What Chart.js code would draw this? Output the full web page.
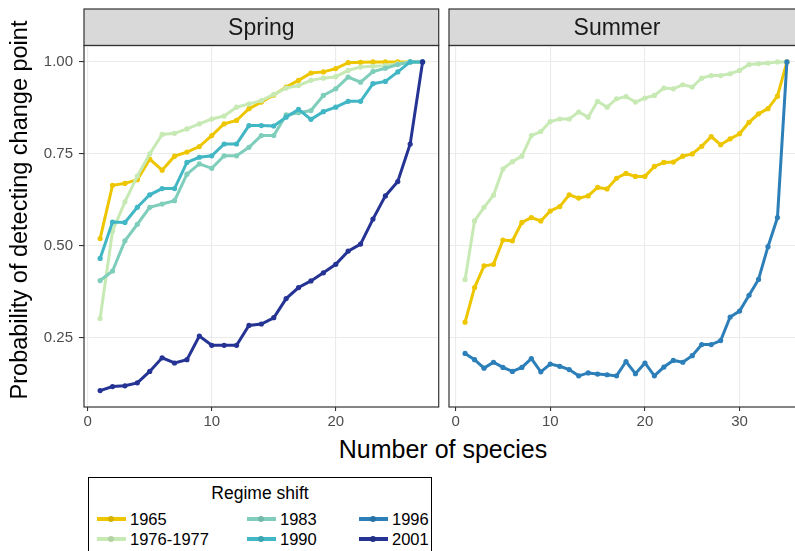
<!DOCTYPE html>
<html><head><meta charset="utf-8">
<script src="https://cdn.jsdelivr.net/npm/chart.js@4.4.0/dist/chart.umd.min.js"></script>
<style>
html,body{margin:0;padding:0;background:#fff;overflow:hidden;width:795px;height:551px;}
#wrap{position:relative;width:795px;height:551px;overflow:hidden;font-family:"Liberation Sans",Arial,Helvetica,sans-serif;}
#c1{position:absolute;left:0;top:0;}
#c2{position:absolute;left:445px;top:0;}
#xtitle{position:absolute;left:243px;width:400px;top:434px;text-align:center;font-size:25px;color:#000;line-height:30px;}
#legend{position:absolute;left:88px;top:477px;width:344px;height:100px;border:1.5px solid #000;box-sizing:border-box;}
#ltitle{position:absolute;left:0;width:100%;top:5px;text-align:center;font-size:17.5px;line-height:20px;color:#000;}
.li{position:absolute;height:20px;}
.li .ln{position:absolute;left:0;top:8px;width:29px;height:4px;}
.li .dt{position:absolute;left:11px;top:7px;width:6px;height:6px;border-radius:50%;}
.li .tx{position:absolute;left:33px;top:0;font-size:16.5px;line-height:20px;color:#000;white-space:nowrap;}
</style>
</head><body>
<div id="wrap">
<canvas id="c1" width="445" height="430"></canvas>
<canvas id="c2" width="365" height="430"></canvas>
<div id="xtitle">Number of species</div>
<div id="legend"><div id="ltitle">Regime shift</div></div>
</div>
<script>
// ---- data ----
const springX = [1,2,3,4,5,6,7,8,9,10,11,12,13,14,15,16,17,18,19,20,21,22,23,24,25,26,27];
const summerX = [1,2,3,4,5,6,7,8,9,10,11,12,13,14,15,16,17,18,19,20,21,22,23,24,25,26,27,28,29,30,31,32,33,34,35];

const spring1965 = [0.52,0.665,0.67,0.68,0.736,0.706,0.744,0.755,0.77,0.80,0.832,0.841,0.873,0.891,0.91,0.932,0.95,0.97,0.973,0.982,0.998,0.999,1.0,1.0,1.0,1.0,1.0];
const spring1976 = [0.303,0.54,0.62,0.69,0.75,0.803,0.806,0.818,0.832,0.845,0.853,0.877,0.886,0.895,0.912,0.929,0.936,0.95,0.956,0.96,0.977,0.986,0.988,0.99,0.995,1.0,1.0];
const spring1983 = [0.406,0.432,0.514,0.559,0.605,0.614,0.623,0.695,0.723,0.711,0.745,0.745,0.768,0.80,0.80,0.856,0.862,0.868,0.909,0.927,0.959,0.945,0.974,0.983,0.993,1.0,1.0];
const spring1990 = [0.466,0.565,0.564,0.605,0.639,0.656,0.656,0.727,0.741,0.745,0.777,0.777,0.827,0.827,0.826,0.85,0.871,0.844,0.865,0.877,0.893,0.893,0.941,0.947,0.973,1.0,1.0];
const spring2001 = [0.107,0.118,0.12,0.128,0.159,0.196,0.182,0.191,0.255,0.23,0.23,0.23,0.284,0.288,0.305,0.357,0.387,0.405,0.427,0.45,0.486,0.505,0.573,0.636,0.675,0.777,1.0];

const summer1965 = [0.293,0.387,0.446,0.45,0.516,0.514,0.564,0.577,0.568,0.595,0.607,0.639,0.630,0.636,0.659,0.655,0.684,0.697,0.689,0.689,0.716,0.727,0.728,0.744,0.75,0.771,0.797,0.775,0.791,0.805,0.836,0.859,0.873,0.907,1.0];
const summer1976 = [0.409,0.568,0.605,0.638,0.709,0.729,0.744,0.80,0.811,0.838,0.845,0.845,0.864,0.85,0.893,0.877,0.90,0.906,0.891,0.902,0.909,0.929,0.927,0.938,0.932,0.956,0.963,0.963,0.968,0.977,0.993,0.995,0.997,1.0,1.0];
const summer1996 = [0.208,0.191,0.168,0.184,0.17,0.159,0.17,0.194,0.158,0.179,0.173,0.164,0.147,0.155,0.152,0.15,0.147,0.186,0.153,0.182,0.147,0.171,0.189,0.184,0.202,0.232,0.232,0.243,0.307,0.323,0.366,0.409,0.498,0.577,1.0];

const regimeNames = ['1965','1976-1977','1983','1990','1996','2001'];
const regimeColors = ['#EDC600','#C7E9B4','#7FCDBB','#41B6C4','#2C7FB8','#253494'];

const yTicks = [0.25,0.50,0.75,1.00];
const springXTicks = [0,10,20];
const summerXTicks = [0,10,20,30];
const panelTitles = ['Spring','Summer'];
const yTitle = 'Probability of detecting change point';
// --------------

const Y_MIN = 0.0624, Y_MAX = 1.0447;
const FONT = '"Liberation Sans", Arial, Helvetica, sans-serif';

function ds(name, xs, ys) {
  const i = regimeNames.indexOf(name);
  return {
    label: name,
    data: xs.map((x, k) => ({x: x, y: ys[k]})),
    borderColor: regimeColors[i],
    backgroundColor: regimeColors[i],
    borderWidth: 3,
    pointRadius: 2.6,
    pointHoverRadius: 2.6,
    pointBorderWidth: 0,
    tension: 0,
    order: 10 - i
  };
}

const panelPlugin = {
  id: 'panel',
  beforeDraw(chart, args, opts) {
    const {ctx, chartArea: a} = chart;
    ctx.save();
    ctx.fillStyle = '#D9D9D9';
    ctx.fillRect(a.left, 9, a.right - a.left, a.top - 9);
    ctx.strokeStyle = '#333333';
    ctx.lineWidth = 1.2;
    ctx.strokeRect(a.left, 9, a.right - a.left, a.top - 9);
    ctx.fillStyle = '#1A1A1A';
    ctx.font = '23px ' + FONT;
    ctx.textAlign = 'center';
    ctx.textBaseline = 'middle';
    const cx = opts.centerX != null ? opts.centerX : (a.left + a.right) / 2;
    ctx.fillText(opts.title, cx, (9 + a.top) / 2 + 1);
    if (opts.yTitle) {
      ctx.translate(21, 210);
      ctx.rotate(-Math.PI / 2);
      ctx.fillStyle = '#000';
      ctx.font = '23.5px ' + FONT;
      ctx.fillText(opts.yTitle, 0, 0);
    }
    ctx.restore();
  },
  afterDraw(chart) {
    const {ctx, chartArea: a} = chart;
    ctx.save();
    ctx.strokeStyle = '#333333';
    ctx.lineWidth = 1.2;
    ctx.strokeRect(a.left, a.top, a.right - a.left, a.bottom - a.top);
    ctx.restore();
  }
};

function makeChart(id, datasets, xMin, xMax, xTicks, showY, title, padding, centerX) {
  return new Chart(document.getElementById(id), {
    type: 'line',
    data: {datasets: datasets},
    plugins: [panelPlugin],
    options: {
      responsive: false,
      animation: false,
      devicePixelRatio: 1,
      layout: {padding: padding},
      plugins: {legend: {display: false}, tooltip: {enabled: false},
                panel: {title: title, centerX: centerX, yTitle: showY ? yTitle : null}},
      scales: {
        x: {
          type: 'linear', min: xMin, max: xMax,
          afterBuildTicks: s => { s.ticks = xTicks.map(v => ({value: v})); },
          afterFit: s => { s.height = 23; },
          grid: {color: '#EBEBEB', lineWidth: 1.1, tickColor: '#333333', tickLength: 4, drawTicks: true},
          border: {display: false},
          ticks: {color: '#4D4D4D', font: {family: FONT, size: 15}, padding: 2, maxRotation: 0, autoSkip: false}
        },
        y: {
          type: 'linear', min: Y_MIN, max: Y_MAX,
          afterBuildTicks: s => { s.ticks = yTicks.map(v => ({value: v})); },
          afterFit: s => { s.width = showY ? 84 : 0; },
          grid: {color: '#EBEBEB', lineWidth: 1.1, tickColor: '#333333', tickLength: 5, drawTicks: showY},
          border: {display: false},
          title: {display: false},
          ticks: {display: showY, color: '#4D4D4D', font: {family: FONT, size: 15}, padding: 6,
                  callback: v => v.toFixed(2)}
        }
      }
    }
  });
}

makeChart('c1', [
  ds('1965', springX, spring1965),
  ds('1976-1977', springX, spring1976),
  ds('1983', springX, spring1983),
  ds('1990', springX, spring1990),
  ds('2001', springX, spring2001)
], -0.3, 28.3, springXTicks, true, panelTitles[0], {left: 0, right: 6.3, top: 45.5, bottom: 0}, null);

makeChart('c2', [
  ds('1965', summerX, summer1965),
  ds('1976-1977', summerX, summer1976),
  ds('1996', summerX, summer1996)
], -0.7, 36.7, summerXTicks, false, panelTitles[1], {left: 4, right: 7, top: 45.5, bottom: 0}, 172);

// legend (column-major, 3 columns x 2 rows)
const legend = document.getElementById('legend');
const colX = [8, 158, 270];
const rowY = [31, 51];
regimeNames.forEach((n, i) => {
  const col = Math.floor(i / 2), row = i % 2;
  const el = document.createElement('div');
  el.className = 'li';
  el.style.left = colX[col] + 'px';
  el.style.top = rowY[row] + 'px';
  el.innerHTML = '<div class="ln" style="background:' + regimeColors[i] + '"></div>' +
                 '<div class="dt" style="background:' + regimeColors[i] + ';filter:brightness(0.9)"></div>' +
                 '<div class="tx">' + n + '</div>';
  legend.appendChild(el);
});
</script>
</body></html>
